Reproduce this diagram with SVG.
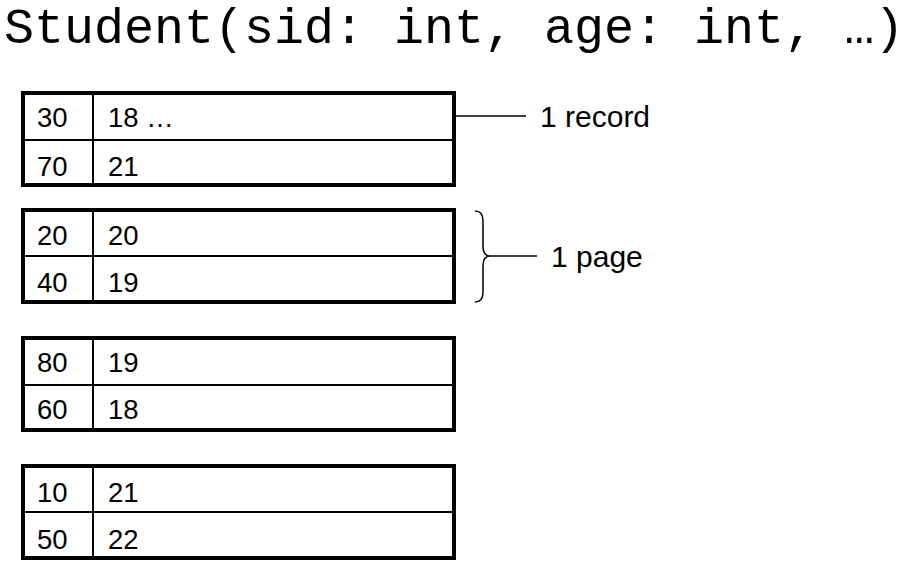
<svg xmlns="http://www.w3.org/2000/svg" width="912" height="585" viewBox="0 0 912 585">
<style>
.bg{fill:#ffffff}
.box{fill:#ffffff;stroke:#000;stroke-width:4}
.in{stroke:#000;stroke-width:2;fill:none}
.t{font-family:"Liberation Sans",Arial,sans-serif;font-size:27.5px;fill:#000}
.lbl{font-family:"Liberation Sans",Arial,sans-serif;font-size:30px;fill:#000}
.title{font-family:"Liberation Mono","Courier New",monospace;font-size:50px;fill:#000}
.conn{stroke:#000;stroke-width:1.5;fill:none}
</style>
<rect class="bg" x="0" y="0" width="912" height="585"/>
<g id="title"><text class="title" x="4" y="43">Student(sid: int, age: int, …)</text></g>
<g id="page1">
<rect class="box" x="23" y="93" width="431" height="92"/>
<line class="in" x1="23" y1="140" x2="454" y2="140"/>
<line class="in" x1="93" y1="93" x2="93" y2="185"/>
<text class="t" x="37" y="127">30</text><text class="t" x="108" y="127">18 …</text>
<text class="t" x="37" y="176">70</text><text class="t" x="108" y="176">21</text>
</g>
<g id="page2">
<rect class="box" x="23" y="210" width="431" height="92"/>
<line class="in" x1="23" y1="256" x2="454" y2="256"/>
<line class="in" x1="93" y1="210" x2="93" y2="302"/>
<text class="t" x="37" y="245">20</text><text class="t" x="108" y="245">20</text>
<text class="t" x="37" y="292">40</text><text class="t" x="108" y="292">19</text>
</g>
<g id="page3">
<rect class="box" x="23" y="338" width="431" height="92"/>
<line class="in" x1="23" y1="385" x2="454" y2="385"/>
<line class="in" x1="93" y1="338" x2="93" y2="430"/>
<text class="t" x="37" y="372">80</text><text class="t" x="108" y="372">19</text>
<text class="t" x="37" y="419">60</text><text class="t" x="108" y="419">18</text>
</g>
<g id="page4">
<rect class="box" x="23" y="466" width="431" height="92"/>
<line class="in" x1="23" y1="512" x2="454" y2="512"/>
<line class="in" x1="93" y1="466" x2="93" y2="558"/>
<text class="t" x="37" y="502">10</text><text class="t" x="108" y="502">21</text>
<text class="t" x="37" y="549">50</text><text class="t" x="108" y="549">22</text>
</g>
<g id="connectors">
<line class="conn" x1="456" y1="116" x2="526" y2="116"/>
<path class="conn" d="M475,211 Q483,211 483,221 L483,246 Q483,256 490,256 Q483,256 483,266 L483,292 Q483,302 475,302"/>
<line class="conn" x1="490" y1="256" x2="537" y2="256"/>
</g>
<g id="label-record"><text class="lbl" x="540" y="127">1 record</text></g>
<g id="label-page"><text class="lbl" x="551" y="267">1 page</text></g>
</svg>
